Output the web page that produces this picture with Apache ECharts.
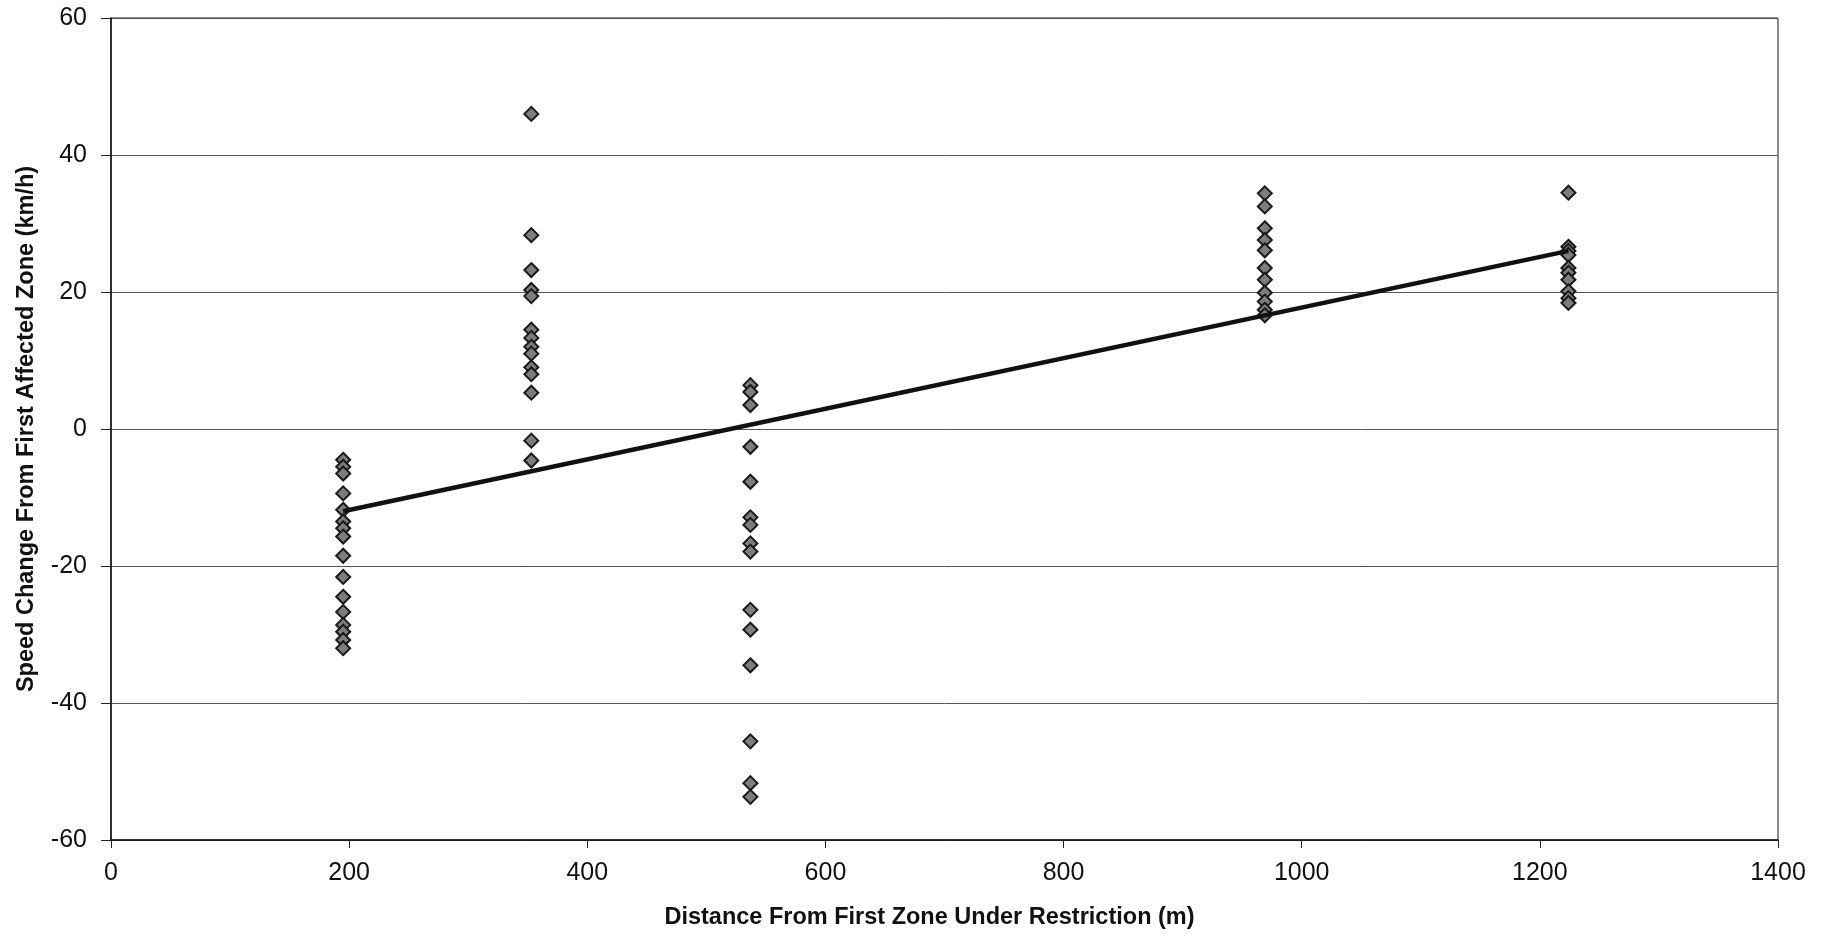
<!DOCTYPE html>
<html>
<head>
<meta charset="utf-8">
<title>Speed Change vs Distance</title>
<script src="https://cdn.jsdelivr.net/npm/echarts@6/dist/echarts.min.js"></script>
<style>
  html, body { margin: 0; padding: 0; background: #ffffff; }
  #chart { width: 1821px; height: 936px; }
</style>
</head>
<body>
<div id="chart"></div>
<script>
// Distance of each measurement site from the first restricted zone (m)
const distances = [195, 353, 537, 969, 1224];

// Speed change from first affected zone (km/h), one list per site
const speeds195 = [-4.5, -5.5, -6.5, -9.4, -11.8, -13.5, -14.5, -15.7, -18.5, -21.6, -24.5, -26.7, -28.6, -29.6, -30.8, -32];
const speeds353 = [46, 28.3, 23.2, 20.3, 19.4, 14.5, 13.3, 12, 11, 9, 8, 5.3, -1.7, -4.6];
const speeds537 = [6.4, 5.4, 3.5, -2.6, -7.7, -12.9, -14, -16.7, -17.9, -26.4, -29.3, -34.5, -45.6, -51.7, -53.7];
const speeds969 = [34.4, 32.5, 29.3, 27.6, 26.1, 23.5, 21.8, 19.9, 18.6, 17.4, 16.6];
const speeds1224 = [34.5, 26.6, 26, 25.4, 23.5, 22.8, 21.8, 20.1, 19.1, 18.4];

// Linear trend line end points
const trendX = [195, 1224];
const trendY = [-12, 26];

// Axis tick labels
const xTicks = [0, 200, 400, 600, 800, 1000, 1200, 1400];
const yTicks = [-60, -40, -20, 0, 20, 40, 60];

const speedLists = [speeds195, speeds353, speeds537, speeds969, speeds1224];
const points = [];
speedLists.forEach((list, i) => {
  list.forEach(v => points.push([distances[i], v]));
});
const trend = trendX.map((x, i) => [x, trendY[i]]);

const FONT = "'Liberation Sans', Arial, Helvetica, sans-serif";

const chart = echarts.init(document.getElementById('chart'), null, { renderer: 'canvas' });
chart.setOption({
  backgroundColor: '#ffffff',
  animation: false,
  grid: {
    left: 111, right: 43, top: 18, bottom: 96,
    show: true, borderColor: '#1a1a1a', borderWidth: 1, backgroundColor: 'transparent'
  },
  xAxis: {
    type: 'value',
    min: xTicks[0], max: xTicks[xTicks.length - 1], interval: 200,
    name: 'Distance From First Zone Under Restriction (m)',
    nameLocation: 'middle', nameGap: 66,
    nameTextStyle: { fontFamily: FONT, fontSize: 23.5, fontWeight: 'bold', color: '#111', padding: [0, 30, 0, 0] },
    axisLine: { show: true, onZero: false, lineStyle: { color: '#111', width: 1.5 } },
    axisTick: { show: true, inside: false, length: 8, lineStyle: { color: '#222', width: 1 } },
    axisLabel: { fontFamily: FONT, fontSize: 25, color: '#111', margin: 21, formatter: v => String(v) },
    splitLine: { show: false }
  },
  yAxis: {
    type: 'value',
    min: yTicks[0], max: yTicks[yTicks.length - 1], interval: 20,
    name: 'Speed Change From First Affected Zone (km/h)',
    nameLocation: 'middle', nameGap: 72, nameRotate: 90,
    nameTextStyle: { fontFamily: FONT, fontSize: 23.5, fontWeight: 'bold', color: '#111' },
    axisLine: { show: true, onZero: false, lineStyle: { color: '#111', width: 1.5 } },
    axisTick: { show: true, inside: false, length: 10, lineStyle: { color: '#222', width: 1 } },
    axisLabel: { fontFamily: FONT, fontSize: 25, color: '#111', margin: 24, formatter: v => String(v) },
    splitLine: { show: true, lineStyle: { color: '#555555', width: 1 } }
  },
  series: [
    {
      type: 'scatter',
      data: points,
      symbol: 'diamond',
      symbolSize: [14, 14],
      itemStyle: { color: '#7d7d7d', borderColor: '#1a1a1a', borderWidth: 2, opacity: 1 },
      z: 2
    },
    {
      type: 'line',
      data: trend,
      showSymbol: false,
      symbol: 'none',
      lineStyle: { color: '#111111', width: 4.5 },
      z: 3
    }
  ]
});
</script>
</body>
</html>
